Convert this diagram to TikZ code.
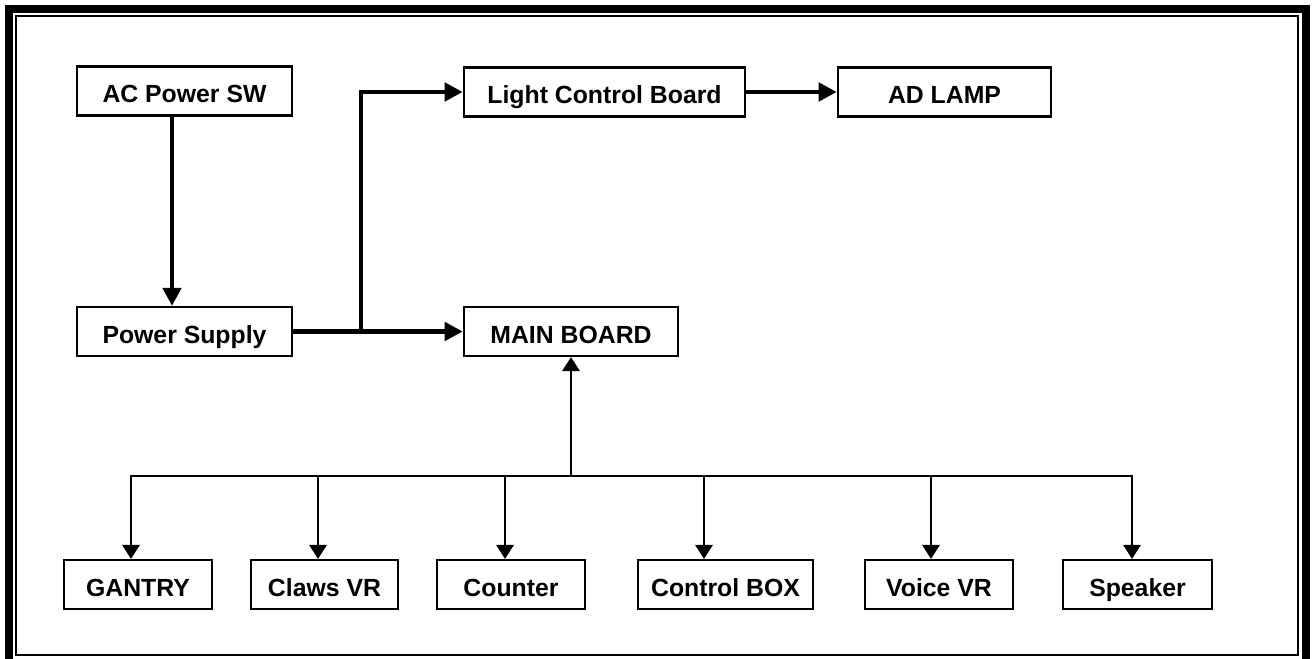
\documentclass[tikz,border=0pt]{standalone}
\usepackage{fontspec}
\setmainfont{Liberation Sans}
\usetikzlibrary{arrows.meta}
\tikzset{
  blockbox/.style={draw, line width=1.9pt, inner sep=0pt, minimum height=36.5pt,
    text height=19pt, text depth=1pt,
    font=\bfseries\fontsize{18.6}{22}\selectfont},
  heavy/.style={line width=3.7pt, -{Triangle[length=13.5pt,width=13.5pt]}},
  light/.style={line width=1.7pt, -{Triangle[length=10.5pt,width=13pt]}},
  busline/.style={line width=1.7pt, line cap=rect},
}
\begin{document}
\begin{tikzpicture}[x=0.75pt, y=-0.75pt]
  \useasboundingbox (0,0) rectangle (1312,659);
  \fill[white] (0,0) rectangle (1312,659);

  % double frame: heavy outer band, thin inner rule
  \draw[line width=6pt, line join=miter] (9,680) -- (9,9) -- (1305.5,9) -- (1305.5,680);
  \draw[line width=1.2pt] (15.8,15.8) rectangle (1298,655);

  % upper blocks
  \node[blockbox, minimum width=161.25pt] (ac)   at (184.5,91)    {AC Power SW};
  \node[blockbox, minimum width=161.25pt] (ps)   at (184.5,331.5) {Power Supply};
  \node[blockbox, minimum width=210.75pt] (lcb)  at (604.5,92)    {Light Control Board};
  \node[blockbox, minimum width=159.75pt] (lamp) at (944.5,92)    {AD LAMP};
  \node[blockbox, minimum width=160.5pt]  (main) at (571,331.5)   {MAIN BOARD};

  % lower blocks
  \node[blockbox, minimum width=111pt]    (gantry)  at (138,584.5)    {GANTRY};
  \node[blockbox, minimum width=110.25pt] (claws)   at (324.5,584.5)  {Claws VR};
  \node[blockbox, minimum width=111pt]    (counter) at (511,584.5)    {Counter};
  \node[blockbox, minimum width=131.25pt] (ctrl)    at (725.5,584.5)  {Control BOX};
  \node[blockbox, minimum width=111pt]    (voice)   at (939,584.5)    {Voice VR};
  \node[blockbox, minimum width=111.75pt] (speaker) at (1137.5,584.5) {Speaker};

  % power path
  \coordinate (acx) at (172,0);
  \draw[heavy] (ac.south -| acx) -- (ps.north -| acx);
  \draw[heavy] (ps.east) -- (main.west);
  \coordinate (split) at (361,331.5);
  \draw[heavy] (split) |- (lcb.west);
  \draw[heavy] (lcb.east) -- (lamp.west);

  % signal bus
  \coordinate (busL) at (131,476);
  \coordinate (busR) at (1132,476);
  \coordinate (busM) at (571,476);
  \coordinate (tapB) at (318,476);
  \coordinate (tapC) at (505,476);
  \coordinate (tapD) at (704,476);
  \coordinate (tapE) at (931,476);
  \draw[busline] (busL) -- (busR);
  \draw[light] (busM) -- (main.south);
  \draw[light] (busL) -- (gantry.north -| busL);
  \draw[light] (tapB) -- (claws.north -| tapB);
  \draw[light] (tapC) -- (counter.north -| tapC);
  \draw[light] (tapD) -- (ctrl.north -| tapD);
  \draw[light] (tapE) -- (voice.north -| tapE);
  \draw[light] (busR) -- (speaker.north -| busR);
\end{tikzpicture}
\end{document}
